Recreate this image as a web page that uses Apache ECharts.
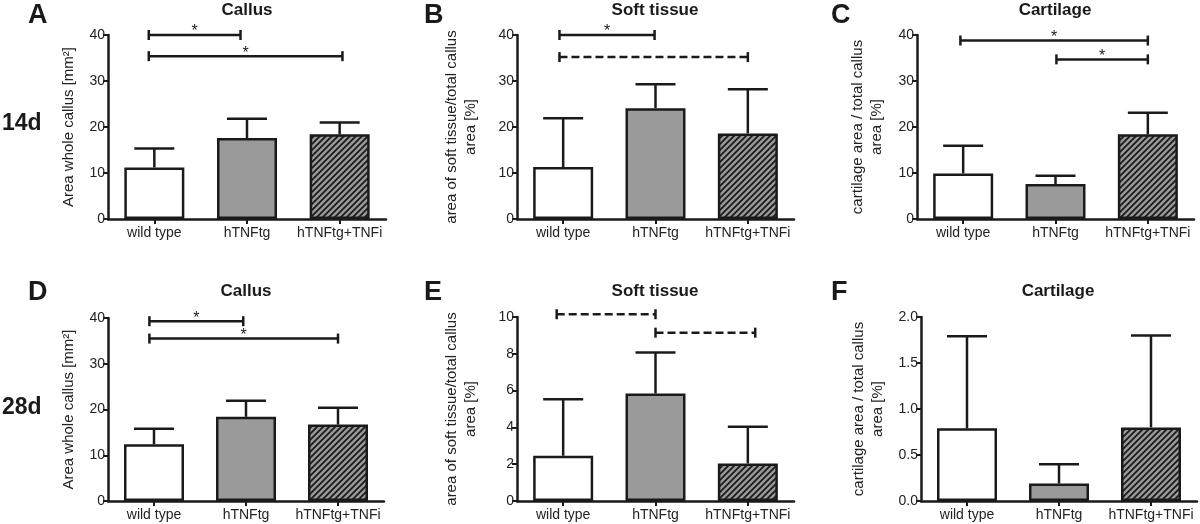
<!DOCTYPE html>
<html><head><meta charset="utf-8">
<script src="https://cdn.jsdelivr.net/npm/echarts@6/dist/echarts.min.js"></script>
<style>html,body{margin:0;padding:0;background:#fff}#c{width:1200px;height:524px}</style>
</head><body><div id="c"></div>
<script>
// ---------------- data ----------------
const categories = ['wild type', 'hTNFtg', 'hTNFtg+TNFi'];

// A: 14d Callus
const meanA  = [11.2, 17.6, 18.4];
const upperA = [15.3, 21.8, 21.0];
const bracketsA = [[-0.06, 0.93, 40, '*'], [-0.06, 2.03, 35.4, '*']];
// B: 14d Soft tissue
const meanB  = [11.3, 24.1, 18.6];
const upperB = [21.9, 29.3, 28.2];
const bracketsB = [[-0.04, 0.99, 40, '*'], [-0.04, 2.0, 35.2, 'ns']];
// C: 14d Cartilage
const meanC  = [9.9, 7.6, 18.4];
const upperC = [15.9, 9.4, 23.1];
const bracketsC = [[-0.03, 2.0, 38.8, '*'], [1.01, 2.0, 34.7, '*']];
// D: 28d Callus
const meanD  = [12.4, 18.4, 16.7];
const upperD = [15.8, 21.9, 20.4];
const bracketsD = [[-0.05, 0.97, 39.3, '*'], [-0.05, 2.0, 35.5, '*']];
// E: 28d Soft tissue
const meanE  = [2.46, 5.84, 2.04];
const upperE = [5.53, 8.07, 4.03];
const bracketsE = [[-0.07, 1.0, 10.15, 'ns'], [1.0, 2.08, 9.15, 'ns']];
// F: 28d Cartilage
const meanF  = [0.79, 0.19, 0.80];
const upperF = [1.79, 0.40, 1.80];
const bracketsF = [];

const yTicksA = {min: 0, max: 40, interval: 10, dec: 0};
const yTicksE = {min: 0, max: 10, interval: 2, dec: 0};
const yTicksF = {min: 0, max: 2, interval: 0.5, dec: 1};

const titles = ['Callus', 'Soft tissue', 'Cartilage', 'Callus', 'Soft tissue', 'Cartilage'];
const letters = ['A', 'B', 'C', 'D', 'E', 'F'];
const rowLabels = ['14d', '28d'];
const yNames = [
  'Area whole callus [mm\u00B2]',
  'area of soft tissue/total callus\narea [%]',
  'cartilage area / total callus\narea [%]',
  'Area whole callus [mm\u00B2]',
  'area of soft tissue/total callus\narea [%]',
  'cartilage area / total callus\narea [%]'
];

// ---------------- styling / layout ----------------
const INK = '#1a1a1a';
const TXT = '#222';
const FONT = "'Liberation Sans', Arial, Helvetica, sans-serif";

const pc = document.createElement('canvas');
pc.width = 6; pc.height = 6;
const g = pc.getContext('2d');
g.fillStyle = '#9a9a9a'; g.fillRect(0, 0, 6, 6);
g.strokeStyle = INK; g.lineWidth = 1.8; g.lineCap = 'square';
g.beginPath();
g.moveTo(0, 6); g.lineTo(6, 0);
g.moveTo(-3, 3); g.lineTo(3, -3);
g.moveTo(3, 9); g.lineTo(9, 3);
g.stroke();
const fills = ['#ffffff', '#9a9a9a', {image: pc, repeat: 'repeat'}];

const panels = [
  {mean: meanA, upper: upperA, br: bracketsA, ax: yTicksA, grid: {left: 108, top: 35, width: 278, height: 184}, gap: 30},
  {mean: meanB, upper: upperB, br: bracketsB, ax: yTicksA, grid: {left: 517, top: 35, width: 277, height: 184}, gap: 37},
  {mean: meanC, upper: upperC, br: bracketsC, ax: yTicksA, grid: {left: 917, top: 35, width: 277, height: 184}, gap: 31},
  {mean: meanD, upper: upperD, br: bracketsD, ax: yTicksA, grid: {left: 108, top: 318, width: 276, height: 183}, gap: 30},
  {mean: meanE, upper: upperE, br: bracketsE, ax: yTicksE, grid: {left: 517, top: 317, width: 277, height: 184}, gap: 37},
  {mean: meanF, upper: upperF, br: bracketsF, ax: yTicksF, grid: {left: 921, top: 317, width: 276, height: 184}, gap: 34}
];

function errRender(params, api) {
  const x = api.value(0), m = api.value(1), u = api.value(2);
  const p0 = api.coord([x, m]);
  const p1 = api.coord([x, u]);
  const hw = 20;
  const st = {stroke: INK, lineWidth: 2.5};
  return {type: 'group', children: [
    {type: 'line', shape: {x1: p0[0], y1: p0[1], x2: p1[0], y2: p1[1]}, style: st},
    {type: 'line', shape: {x1: p1[0] - hw, y1: p1[1], x2: p1[0] + hw, y2: p1[1]}, style: st}
  ]};
}

function makeBrRender(arr) {
  return function (params, api) {
    const b = arr[params.dataIndex];
    const a = api.coord([b[0], b[2]]);
    const c = api.coord([b[1], b[2]]);
    const dashed = b[3] !== '*';
    const st = {stroke: INK, lineWidth: 2.5};
    const children = [
      {type: 'line', shape: {x1: a[0], y1: a[1], x2: c[0], y2: c[1]},
       style: {stroke: INK, lineWidth: 2.5, lineDash: dashed ? [8, 4] : null}},
      {type: 'line', shape: {x1: a[0], y1: a[1] - 5, x2: a[0], y2: a[1] + 5}, style: st},
      {type: 'line', shape: {x1: c[0], y1: c[1] - 5, x2: c[0], y2: c[1] + 5}, style: st}
    ];
    if (!dashed) {
      children.push({type: 'text', x: (a[0] + c[0]) / 2, y: a[1] - 3,
        style: {text: b[3], font: '16px ' + FONT, fill: INK, textAlign: 'center', textVerticalAlign: 'middle'}});
    }
    return {type: 'group', children: children};
  };
}

const option = {
  animation: false,
  backgroundColor: '#fff',
  grid: [], xAxis: [], yAxis: [], series: [], graphic: []
};

panels.forEach((p, i) => {
  option.grid.push(Object.assign({containLabel: false, outerBoundsMode: 'none'}, p.grid));
  option.xAxis.push({
    type: 'category', gridIndex: i, data: categories,
    axisLine: {show: true, onZero: false, lineStyle: {color: INK, width: 2.5}},
    axisTick: {show: true, alignWithLabel: true, length: 5, lineStyle: {color: INK, width: 2}},
    axisLabel: {color: TXT, fontSize: 14, fontFamily: FONT, margin: 7, interval: 0}
  });
  option.xAxis.push({type: 'value', gridIndex: i, min: -0.5, max: 2.5, show: false});
  option.yAxis.push({
    type: 'value', gridIndex: i, min: p.ax.min, max: p.ax.max, interval: p.ax.interval,
    axisLine: {show: true, onZero: false, lineStyle: {color: INK, width: 2.5}},
    axisTick: {show: true, length: 5, lineStyle: {color: INK, width: 2}},
    splitLine: {show: false},
    axisLabel: {color: TXT, fontSize: 14, fontFamily: FONT, margin: 3,
      formatter: v => Number(v).toFixed(p.ax.dec)},
    name: yNames[i], nameLocation: 'middle', nameGap: p.gap,
    nameTextStyle: {color: TXT, fontSize: 15, fontFamily: FONT, lineHeight: 19}
  });
  option.series.push({
    type: 'bar', xAxisIndex: 2 * i, yAxisIndex: i, barWidth: 60,
    data: p.mean.map((v, k) => ({value: v, itemStyle: {color: fills[k]}})),
    itemStyle: {borderColor: INK, borderWidth: 2.5},
    z: 2
  });
  option.series.push({
    type: 'custom', xAxisIndex: 2 * i, yAxisIndex: i,
    data: p.mean.map((v, k) => [k, v, p.upper[k]]),
    renderItem: errRender, z: 1
  });
  if (p.br.length) {
    option.series.push({
      type: 'custom', xAxisIndex: 2 * i + 1, yAxisIndex: i,
      data: p.br.map(b => [b[0], b[1], b[2]]),
      renderItem: makeBrRender(p.br), z: 3, clip: false
    });
  }
});

const titleX = [247, 655, 1055, 246, 655, 1058];
const titleY = [2, 2, 2, 283, 283, 283];
const letterX = [28, 424, 831, 28, 424, 831];
const letterY = [2, 2, 2, 279, 279, 279];
titles.forEach((t, i) => {
  option.graphic.push({type: 'text', x: titleX[i], y: titleY[i],
    style: {text: t, font: 'bold 17px ' + FONT, fill: INK, textAlign: 'center', textVerticalAlign: 'top'}});
  option.graphic.push({type: 'text', x: letterX[i], y: letterY[i],
    style: {text: letters[i], font: 'bold 27px ' + FONT, fill: INK, textAlign: 'left', textVerticalAlign: 'top'}});
});
option.graphic.push({type: 'text', x: 2, y: 112,
  style: {text: rowLabels[0], font: 'bold 23px ' + FONT, fill: INK, textAlign: 'left', textVerticalAlign: 'top'}});
option.graphic.push({type: 'text', x: 2, y: 396,
  style: {text: rowLabels[1], font: 'bold 23px ' + FONT, fill: INK, textAlign: 'left', textVerticalAlign: 'top'}});

const chart = echarts.init(document.getElementById('c'), null, {renderer: 'canvas'});
chart.setOption(option);
</script>
</body></html>
